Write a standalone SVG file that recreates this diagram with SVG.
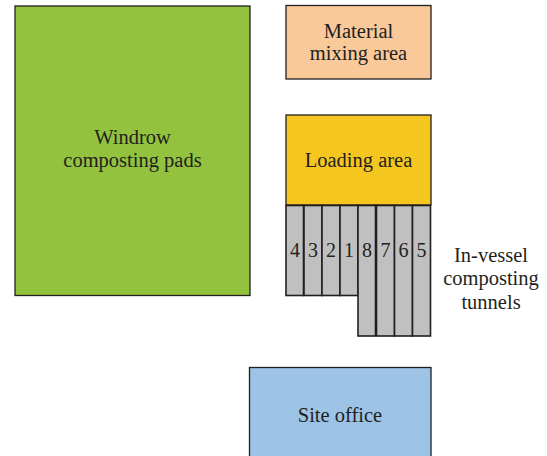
<svg xmlns="http://www.w3.org/2000/svg" width="547" height="456" viewBox="0 0 547 456">
<style>
.box{stroke:#231f20;stroke-width:1.3}
.tun{fill:#c0c0c0;stroke:#231f20;stroke-width:1.6}
text{fill:#231f20;text-anchor:middle}
.t{font-size:20.5px}
.n{font-size:20px}
</style>
<rect width="547" height="456" fill="#ffffff"/>
<g font-family="Liberation Serif, DejaVu Serif, serif">
<g id="windrow">
<rect class="box" x="15" y="6" width="235" height="289.5" fill="#93c23e"/>
<text class="t" x="132.5" y="144">Windrow</text>
<text class="t" x="132.5" y="167">composting pads</text>
</g>
<g id="material">
<rect class="box" x="286" y="5.5" width="145" height="73.5" fill="#f9c99a"/>
<text class="t" x="358.5" y="38">Material</text>
<text class="t" x="358.5" y="60">mixing area</text>
</g>
<g id="loading">
<rect class="box" x="286" y="115" width="145" height="90" fill="#f5c520"/>
<text class="t" x="358.5" y="167">Loading area</text>
</g>
<g id="tunnels">
<rect class="tun" x="286" y="205.5" width="17.5" height="90"/>
<rect class="tun" x="304" y="205.5" width="18" height="90"/>
<rect class="tun" x="322" y="205.5" width="18" height="90"/>
<rect class="tun" x="340" y="205.5" width="18" height="90"/>
<rect class="tun" x="358" y="205.5" width="17.5" height="130.5"/>
<rect class="tun" x="376.5" y="205.5" width="18" height="130.5"/>
<rect class="tun" x="394.5" y="205.5" width="18" height="130.5"/>
<rect class="tun" x="412.5" y="205.5" width="18" height="130.5"/>
<text class="n" x="295" y="257">4</text>
<text class="n" x="313" y="257">3</text>
<text class="n" x="331" y="257">2</text>
<text class="n" x="349" y="257">1</text>
<text class="n" x="367" y="257">8</text>
<text class="n" x="385.5" y="257">7</text>
<text class="n" x="403.5" y="257">6</text>
<text class="n" x="421.5" y="257">5</text>
</g>
<g id="tunnels-label">
<text class="t" x="491" y="262">In-vessel</text>
<text class="t" x="491" y="285">composting</text>
<text class="t" x="491" y="309">tunnels</text>
</g>
<g id="site-office">
<rect class="box" x="249.5" y="367.5" width="181.5" height="95" fill="#9dc3e6"/>
<text class="t" x="340" y="422">Site office</text>
</g>
</g>
<g id="connectors"></g>
</svg>
